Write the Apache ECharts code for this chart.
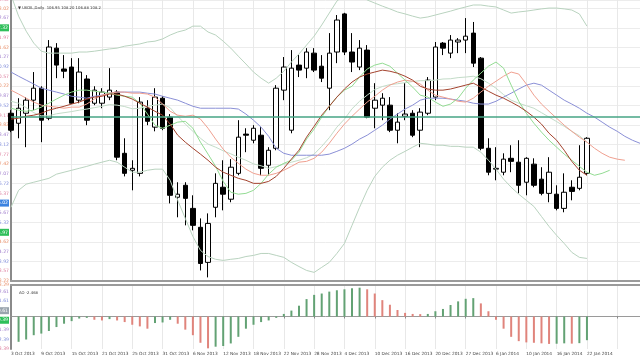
<!DOCTYPE html>
<html><head><meta charset="utf-8">
<script src="https://cdn.jsdelivr.net/npm/echarts@6/dist/echarts.min.js"></script>
<style>html,body{margin:0;padding:0;background:#fff}#c{width:640px;height:360px}</style>
</head><body><div id="c"></div>
<script>
const titleText = '\u25BC UKOIL,Daily  106.95 108.20 106.88 108.2';
const aoTitle = 'AO -2.468';
const tickLabels = ['3 Oct 2013','9 Oct 2013','15 Oct 2013','21 Oct 2013','25 Oct 2013','31 Oct 2013','6 Nov 2013','12 Nov 2013','18 Nov 2013','22 Nov 2013','28 Nov 2013','4 Dec 2013','10 Dec 2013','16 Dec 2013','20 Dec 2013','27 Dec 2013','6 Jan 2014','10 Jan 2014','16 Jan 2014','22 Jan 2014'];
const slotCount = 84;

const opens  = [109.25,108.89,109.25,109.72,110.15,109.07,111.59,110.84,110.91,109.72,110.48,109.61,109.61,109.83,110.01,107.81,107.20,107.09,109.43,108.75,109.79,109.11,106.23,106.66,105.83,105.15,103.89,105.87,106.59,106.16,107.09,108.50,108.28,108.46,107.38,107.99,110.08,108.64,110.98,110.87,111.41,110.94,110.15,111.45,112.82,111.45,110.91,111.52,109.43,109.54,109.54,108.64,109.14,109.25,108.64,109.25,109.83,111.77,111.41,111.81,111.88,112.13,111.23,107.99,107.24,107.13,107.63,107.49,106.77,107.42,106.88,106.37,106.34,105.83,106.59,106.55,107.09];
const closes = [108.64,109.43,109.72,110.15,109.00,111.63,110.98,110.76,109.61,110.73,109.00,110.08,110.01,110.08,107.67,107.09,107.27,109.65,108.96,109.83,108.71,106.30,106.34,106.19,105.22,103.85,105.29,106.73,106.34,107.31,108.39,108.46,108.71,107.27,107.92,110.15,110.91,110.87,110.80,111.45,110.80,110.51,111.41,112.60,111.45,111.09,111.59,109.11,109.72,109.79,108.64,108.93,109.22,108.46,109.29,110.44,111.63,111.59,111.88,111.88,112.02,111.05,107.99,107.13,107.27,107.60,107.52,106.66,107.63,106.66,106.37,107.13,105.83,106.41,106.44,106.95,108.35];
const lows   = [108.57,108.35,108.03,109.36,108.21,109.00,110.51,110.51,109.58,109.61,108.82,109.54,109.43,109.72,107.56,106.98,106.48,106.98,108.82,108.60,108.64,106.01,105.51,105.22,105.04,103.60,103.35,105.51,105.76,106.05,107.02,107.85,108.17,107.02,107.02,107.92,109.72,108.53,110.55,110.51,110.73,110.37,109.36,111.05,111.34,110.73,110.80,109.07,108.71,109.00,108.57,108.17,109.00,108.39,108.03,109.18,109.72,111.34,111.23,111.41,111.41,110.91,107.92,107.02,106.84,107.02,107.13,106.37,106.30,106.59,106.30,106.05,105.76,105.69,106.12,106.48,107.02];
const highs  = [109.36,109.79,109.83,110.73,110.22,111.88,111.77,111.34,111.23,111.23,110.62,110.22,110.15,110.87,110.08,108.35,107.56,109.83,109.72,110.15,109.86,109.22,106.77,106.77,106.30,105.47,105.65,107.09,107.56,107.60,109.00,108.71,108.82,108.75,108.03,110.26,111.27,111.52,111.34,111.59,111.59,111.34,112.13,112.78,112.86,112.13,111.88,111.70,110.33,109.97,109.83,109.25,110.33,109.36,109.43,110.55,111.81,111.81,112.06,111.95,112.67,112.53,111.27,108.35,108.03,107.81,108.10,108.28,107.67,107.63,107.31,107.67,106.66,107.09,106.84,108.10,108.39];

const bbUpper = [113.50,112.74,112.20,111.77,111.48,111.41,111.41,111.41,111.41,111.45,111.45,111.48,111.52,111.56,111.59,111.66,111.70,111.74,111.81,111.84,111.92,112.06,112.17,112.24,112.38,112.38,112.17,112.06,111.84,111.59,111.30,111.02,110.73,110.51,110.33,110.51,110.76,111.09,111.38,111.70,112.02,112.42,112.85,113.28,113.50,113.61,113.50,113.32,113.21,113.10,113.00,112.89,112.82,112.74,112.67,112.71,112.78,112.85,112.92,113.00,113.07,113.14,113.14,113.10,113.07,112.96,112.85,112.89,112.92,112.96,113.00,113.03,113.03,113.00,112.96,112.82,112.38];
const bbMiddle = [109.68,109.61,109.45,109.27,109.16,109.16,109.23,109.27,109.31,109.36,109.40,109.45,109.50,109.56,109.54,109.49,109.41,109.43,109.50,109.54,109.58,109.45,109.14,108.86,108.60,108.35,108.14,108.03,107.90,107.79,107.67,107.56,107.43,107.36,107.27,107.33,107.42,107.49,107.56,107.65,107.78,108.06,108.37,108.75,109.04,109.41,109.68,109.90,110.10,110.21,110.28,110.31,110.35,110.39,110.42,110.42,110.44,110.48,110.49,110.53,110.55,110.58,110.49,110.33,110.15,109.92,109.72,109.61,109.52,109.43,109.27,109.11,108.95,108.78,108.60,108.44,108.21];
const bbLower = [105.87,106.48,106.70,106.77,106.84,106.91,107.06,107.13,107.20,107.27,107.34,107.42,107.49,107.56,107.49,107.31,107.13,107.13,107.20,107.24,107.24,106.84,106.12,105.47,104.82,104.32,104.10,104.00,103.96,104.00,104.03,104.10,104.14,104.21,104.21,104.14,104.07,103.89,103.74,103.60,103.53,103.71,103.89,104.21,104.57,105.22,105.87,106.48,106.98,107.31,107.56,107.74,107.88,108.03,108.17,108.14,108.10,108.10,108.06,108.06,108.03,108.03,107.85,107.56,107.24,106.88,106.59,106.34,106.12,105.90,105.54,105.18,104.86,104.57,104.25,104.07,104.03];
const trendMA = [109.04,109.07,109.14,109.18,109.25,109.36,109.43,109.50,109.58,109.65,109.76,109.83,109.86,109.94,109.94,109.86,109.76,109.61,109.47,109.32,109.18,108.86,108.46,108.21,107.99,107.78,107.56,107.31,107.13,107.02,106.91,106.84,106.73,106.73,106.80,106.98,107.27,107.60,107.92,108.39,108.78,109.18,109.50,109.83,110.12,110.37,110.55,110.66,110.73,110.80,110.76,110.69,110.58,110.44,110.22,110.12,110.08,110.08,110.12,110.19,110.26,110.33,110.19,110.04,109.90,109.79,109.65,109.50,109.32,109.11,108.86,108.53,108.28,107.92,107.52,107.20,107.02];
const jaw = [110.73,110.58,110.44,110.30,110.15,110.08,110.01,109.94,109.86,109.83,109.79,109.86,109.90,109.97,110.01,110.01,110.01,110.01,109.97,109.94,109.86,109.79,109.72,109.61,109.50,109.43,109.43,109.43,109.43,109.43,109.40,109.22,109.00,108.75,108.42,107.99,107.81,107.74,107.74,107.74,107.74,107.74,107.78,107.88,107.99,108.14,108.32,108.46,108.64,108.82,109.04,109.22,109.40,109.54,109.72,109.79,109.79,109.79,109.76,109.72,109.68,109.61,109.58,109.58,109.68,109.83,109.97,110.12,110.26,110.33,110.26,110.08,109.90,109.72,109.58,109.43,109.25,109.11,108.93,108.75,108.60,108.42,108.28,108.17];
const teeth = [110.08,109.94,109.79,109.65,109.54,109.50,109.47,109.43,109.47,109.47,109.58,109.76,109.90,109.97,110.01,110.01,109.97,109.97,109.94,109.83,109.58,109.32,109.18,109.14,109.18,109.04,108.71,108.32,107.96,107.67,107.45,107.24,107.09,107.02,107.02,107.09,107.20,107.34,107.49,107.52,107.63,107.85,108.17,108.53,108.86,109.14,109.40,109.65,109.86,110.08,110.26,110.37,110.44,110.40,110.30,110.08,109.90,109.83,109.76,109.68,109.65,109.79,110.01,110.22,110.40,110.58,110.73,110.66,110.30,109.90,109.58,109.32,109.07,108.82,108.60,108.39,108.21,107.99,107.81,107.67,107.60,107.56];
const lips = [109.43,109.36,109.32,109.36,109.47,109.61,109.76,109.90,110.01,110.08,110.08,110.04,110.01,109.97,109.90,109.86,109.83,109.61,109.22,108.82,108.71,108.82,108.93,108.96,108.71,108.21,107.78,107.34,106.80,106.41,106.34,106.37,106.48,106.73,107.06,107.31,107.45,107.56,107.85,108.32,108.68,109.11,109.50,109.83,110.08,110.22,110.55,110.84,110.98,111.05,110.94,110.69,110.44,110.19,109.90,109.83,109.65,109.50,109.58,109.79,110.15,110.44,110.69,110.94,111.09,110.87,110.26,109.68,109.25,108.89,108.57,108.28,108.03,107.78,107.56,107.34,107.13,107.02,107.09,107.20];
const levelLine = 109.11;
const ao = [null,-2.64,-2.40,-1.95,-1.78,-1.51,-1.10,-0.75,-0.48,-0.21,-0.14,-0.34,-0.41,-0.27,-0.41,-0.58,-0.86,-1.03,-1.27,-0.68,-0.62,-0.34,-0.75,-1.37,-1.95,-2.74,-3.32,-3.15,-3.08,-2.81,-2.12,-1.27,-0.86,-0.58,-0.41,-0.14,0.27,0.62,1.13,1.82,2.26,2.40,2.60,2.74,2.84,2.95,3.01,2.84,2.40,1.71,1.23,0.68,0.38,0.27,0.25,0.27,0.55,0.79,1.20,1.58,1.85,1.92,1.37,0.55,-0.34,-1.27,-2.12,-2.57,-2.70,-2.74,-2.80,-2.86,-2.84,-2.80,-2.83,-2.78,-2.47];

const cats = Array.from({length: slotCount}, (_, i) => String(i));
const candles = opens.map((o, i) => [o, closes[i], lows[i], highs[i]]);

const txt = ['a','b','c','d'];
const rich = {
  a:{color:'#e8916c',fontSize:4.6}, b:{color:'#dc7a9c',fontSize:4.6},
  c:{color:'#7f8bd9',fontSize:4.6}, d:{color:'#a17fcd',fontSize:4.6},
  g:{color:'#ffffff',backgroundColor:'#2fbf5a',padding:[1,1],fontSize:4.6},
  u:{color:'#ffffff',backgroundColor:'#3b82e0',padding:[1,1],fontSize:4.6},
  s:{color:'#ffffff',backgroundColor:'#9aa4ae',padding:[1,1],fontSize:4.6}
};
const grey = '#9a9a9a';
const split = {show:true, interval:3, lineStyle:{color:'#e8e8e8', width:1}};

function line(name, data, color, w) {
  return {name, type:'line', data, xAxisIndex:0, yAxisIndex:0, showSymbol:false, symbol:'none',
    lineStyle:{color, width:w||1}, itemStyle:{color}, silent:true, z:3};
}

const chart = echarts.init(document.getElementById('c'), null, {renderer:'canvas'});
chart.setOption({
  animation:false,
  backgroundColor:'#ffffff',
  title:[
    {text:titleText, left:13, top:1, textStyle:{fontSize:3.8, color:'#333', fontWeight:'normal', fontFamily:'DejaVu Sans'}},
    {text:aoTitle, left:14, top:286, textStyle:{fontSize:3.8, color:'#333', fontWeight:'normal', fontFamily:'DejaVu Sans'}}
  ],
  grid:[
    {left:11, right:0, top:0, height:281, outerBoundsMode:'none', containLabel:false},
    {left:11, right:0, top:285, height:64, outerBoundsMode:'none', containLabel:false}
  ],
  xAxis:[
    {type:'category', gridIndex:0, data:cats, boundaryGap:false,
      axisLabel:{show:false}, axisTick:{show:false},
      axisLine:{show:true, lineStyle:{color:grey, width:2}}, splitLine:split},
    {type:'category', gridIndex:1, data:cats, boundaryGap:false,
      axisLine:{show:true, lineStyle:{color:grey, width:1}},
      axisTick:{show:true, interval:3, length:2, lineStyle:{color:'#888'}},
      axisLabel:{show:true, interval:3, fontSize:4.3, color:'#444', align:'left', margin:3,
        fontFamily:'DejaVu Sans', formatter:(v, i) => tickLabels[i/4] || ''},
      splitLine:split},
    {type:'category', gridIndex:1, data:cats, boundaryGap:false, position:'top',
      axisLabel:{show:false}, axisTick:{show:false},
      axisLine:{show:true, lineStyle:{color:grey, width:2}}, splitLine:{show:false}}
  ],
  yAxis:[
    {type:'value', gridIndex:0, min:103.22, max:113.32, interval:0.35, position:'left',
      axisLine:{show:true, lineStyle:{color:'#8a8a8a', width:2}}, axisTick:{show:false},
      splitLine:{show:false},
      axisLabel:{show:true, margin:2, fontFamily:'DejaVu Sans', rich,
        formatter:(v, i) => {
          const s = (i === 26 || i === 5) ? 'g' : (i === 8 ? 'u' : txt[i % 4]);
          return '{' + s + '|' + v.toFixed(2) + '}';
        }}},
    {type:'value', gridIndex:0, min:103.22, max:113.32, interval:0.7, position:'left',
      axisLine:{show:false}, axisTick:{show:false}, axisLabel:{show:false},
      splitLine:{show:true, lineStyle:{color:'#ececec', width:1}}},
    {type:'value', gridIndex:1, min:-3.39, max:3.29, interval:1, position:'left',
      axisLine:{show:true, lineStyle:{color:'#8a8a8a', width:2}}, axisTick:{show:false},
      splitLine:{show:false},
      axisLabel:{show:true, margin:2, fontFamily:'DejaVu Sans', rich,
        formatter:(v, i) => {
          const s = i === 3 ? 'g' : (i === 4 ? 's' : txt[(i + 1) % 4]);
          return '{' + s + '|' + v.toFixed(2) + '}';
        }}}
  ],
  series:[
    {name:'UKOIL', type:'candlestick', xAxisIndex:0, yAxisIndex:0, data:candles, barWidth:5,
      itemStyle:{color:'#ffffff', color0:'#000000', borderColor:'#000000', borderColor0:'#000000', borderWidth:1},
      markLine:{silent:true, symbol:'none', label:{show:false},
        lineStyle:{color:'#46a584', width:1.5, type:'solid'}, data:[{yAxis:levelLine}]}, z:2},
    line('BB upper', bbUpper, '#b9d3bf'),
    line('BB middle', bbMiddle, '#c3dcc8'),
    line('BB lower', bbLower, '#b9d3bf'),
    line('Jaw', jaw, '#8a8fd6'),
    line('Teeth', teeth, '#f0a090'),
    line('Lips', lips, '#93dc93'),
    line('MA', trendMA, '#a4432e'),
    {name:'AO', type:'bar', xAxisIndex:1, yAxisIndex:2, data:ao, barWidth:2,
      itemStyle:{color:(p) => {
        const i = p.dataIndex;
        const prev = ao[i - 1];
        return (prev == null || ao[i] >= prev) ? '#63a274' : '#e0847c';
      }}}
  ]
});
</script></body></html>
